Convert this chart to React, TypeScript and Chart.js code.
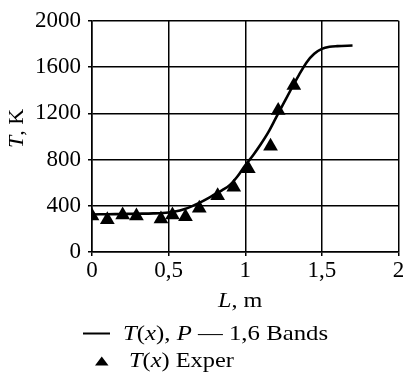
import React, { useEffect, useRef } from 'react';
import { Chart, registerables } from 'chart.js';

Chart.register(...registerables);

// Model curve: T(x), P — 1,6 Bands
const modelL = [0, 0.1, 0.2, 0.3, 0.4, 0.5, 0.55, 0.6, 0.65, 0.7, 0.75, 0.8, 0.85, 0.9, 0.95, 1.0, 1.05, 1.1, 1.15, 1.2, 1.25, 1.3, 1.35, 1.4, 1.45, 1.5, 1.55, 1.6, 1.7];
const modelT = [325, 327, 329, 331, 334, 342, 352, 370, 395, 425, 460, 498, 535, 580, 655, 750, 835, 930, 1035, 1160, 1285, 1410, 1530, 1640, 1715, 1757, 1775, 1781, 1786];

// Experimental points: T(x) Exper
const experL = [0, 0.1, 0.2, 0.29, 0.45, 0.525, 0.61, 0.7, 0.82, 0.925, 1.02, 1.165, 1.215, 1.317];
const experT = [312, 280, 321, 312, 285, 321, 306, 378, 487, 560, 720, 915, 1223, 1441];

const xTicks = [0, 0.5, 1, 1.5, 2];
const yTicks = [0, 400, 800, 1200, 1600, 2000];

const SERIF = '"Liberation Serif", "Times New Roman", serif';

type Seg = [string, boolean];

function drawRich(ctx: CanvasRenderingContext2D, segs: Seg[], x: number, y: number, size: number, sx = 1) {
  ctx.save();
  ctx.translate(x, y);
  ctx.scale(sx, 1);
  ctx.textBaseline = 'alphabetic';
  ctx.textAlign = 'left';
  ctx.fillStyle = '#000';
  let cx = 0;
  for (const [t, it] of segs) {
    ctx.font = `${it ? 'italic ' : ''}${size}px ${SERIF}`;
    ctx.fillText(t, cx, 0);
    cx += ctx.measureText(t).width;
  }
  ctx.restore();
}

const overlayPlugin = {
  id: 'overlayText',
  afterDraw(chart: any) {
    const ctx: CanvasRenderingContext2D = chart.ctx;
    // Y axis title (rotated)
    ctx.save();
    ctx.translate(23, 148);
    ctx.rotate(-Math.PI / 2);
    drawRich(ctx, [['T', true], [', K', false]], 0, 0, 21, 1.05);
    ctx.restore();
    // X axis title
    drawRich(ctx, [['L', true], [', m', false]], 218, 306.5, 21, 1.15);
    // Legend line 1
    ctx.save();
    ctx.strokeStyle = '#000';
    ctx.lineWidth = 2;
    ctx.beginPath();
    ctx.moveTo(83, 333.5);
    ctx.lineTo(110, 333.5);
    ctx.stroke();
    ctx.restore();
    drawRich(ctx, [['T', true], ['(', false], ['x', true], ['), ', false], ['P', true], [' — 1,6 Bands', false]], 123, 340, 21, 1.18);
    // Legend line 2
    ctx.save();
    ctx.fillStyle = '#000';
    ctx.beginPath();
    ctx.moveTo(95, 365.5);
    ctx.lineTo(108.5, 365.5);
    ctx.lineTo(101.75, 356.5);
    ctx.closePath();
    ctx.fill();
    ctx.restore();
    drawRich(ctx, [['T', true], ['(', false], ['x', true], [') Exper', false]], 129, 367, 21, 1.16);
  },
};

export default function App() {
  const ref = useRef<HTMLCanvasElement>(null);
  useEffect(() => {
    if (!ref.current) return;
    const tickFont = { family: SERIF, size: 23 };
    const chart = new Chart(ref.current, {
      type: 'scatter',
      data: {
        datasets: [
          {
            label: 'T(x), P — 1,6 Bands',
            data: modelL.map((l, i) => ({ x: l, y: modelT[i] })),
            showLine: true,
            borderColor: '#000',
            borderWidth: 2.6,
            pointRadius: 0,
            cubicInterpolationMode: 'monotone',
            order: 2,
          },
          {
            label: 'T(x) Exper',
            data: experL.map((l, i) => ({ x: l, y: experT[i] })),
            showLine: false,
            pointStyle: 'triangle',
            pointRadius: 8.5,
            backgroundColor: '#000',
            borderColor: '#000',
            borderWidth: 0,
            order: 1,
          },
        ],
      },
      options: {
        responsive: false,
        animation: false,
        devicePixelRatio: 1,
        layout: { padding: { top: 17, right: 5, left: 0, bottom: 0 } },
        plugins: { legend: { display: false }, tooltip: { enabled: false } },
        scales: {
          x: {
            type: 'linear',
            min: 0,
            max: 2,
            afterBuildTicks: (s: any) => { s.ticks = xTicks.map((v) => ({ value: v })); },
            afterFit: (s: any) => { s.height = 125; },
            ticks: {
              autoSkip: false,
              maxRotation: 0,
              padding: 1,
              color: '#000',
              font: tickFont,
              callback: (v: any) => String(v).replace('.', ','),
            },
            grid: { color: '#000', lineWidth: 1.5, tickLength: 4 },
            border: { color: '#000', width: 1.5 },
          },
          y: {
            type: 'linear',
            min: 0,
            max: 2000,
            afterBuildTicks: (s: any) => { s.ticks = yTicks.map((v) => ({ value: v })); },
            afterFit: (s: any) => { s.width = 92; },
            ticks: { padding: 7, color: '#000', font: tickFont, callback: (v: any) => String(v) },
            grid: { color: '#000', lineWidth: 1.5, tickLength: 4 },
            border: { color: '#000', width: 1.5 },
          },
        },
      },
      plugins: [overlayPlugin],
    } as any);
    return () => chart.destroy();
  }, []);
  return (
    <div style={{ position: 'absolute', left: 0, top: 0, width: 407, height: 377, background: '#fff' }}>
      <canvas ref={ref} width={407} height={377} />
    </div>
  );
}
